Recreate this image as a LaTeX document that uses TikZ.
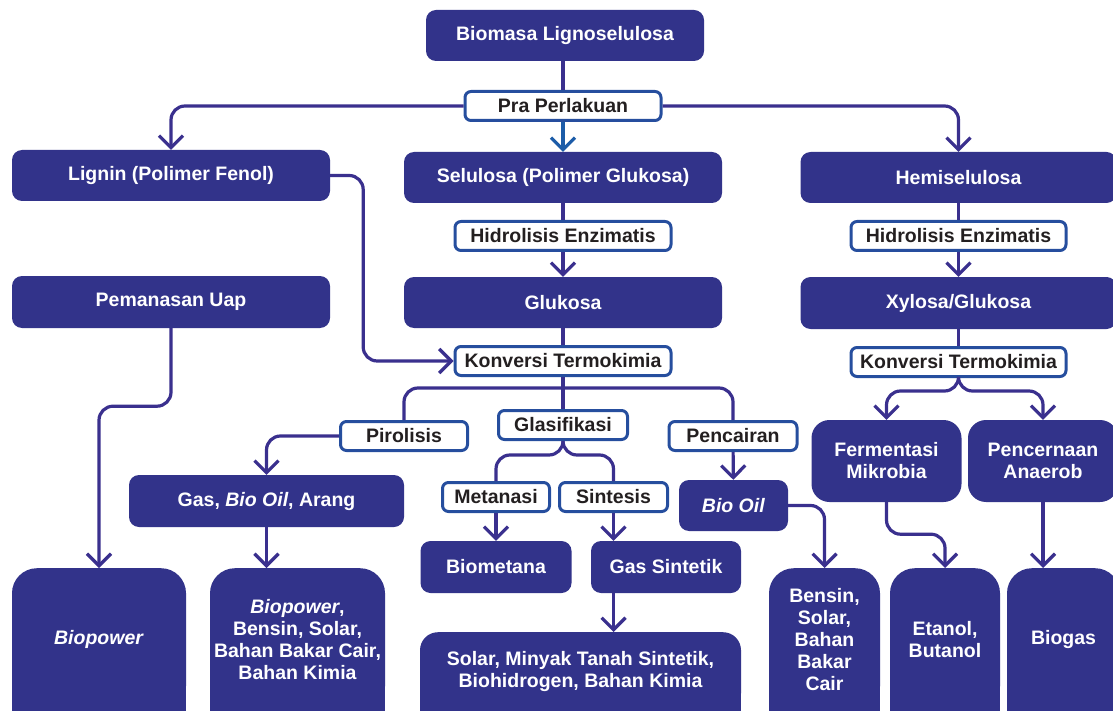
\documentclass[tikz,border=0pt]{standalone}
\usepackage{fontspec}
\setmainfont{Liberation Sans}
\usetikzlibrary{arrows.meta}
\usetikzlibrary{backgrounds}
\definecolor{boxblue}{RGB}{50,51,138}
\definecolor{tagblue}{RGB}{38,78,158}
\definecolor{linkblue}{RGB}{58,48,142}
\definecolor{midblue}{RGB}{28,92,168}
\definecolor{tagtext}{RGB}{35,31,32}
\tikzset{
  box/.style={fill=boxblue, text=white, rounded corners=10pt, inner sep=0pt, align=center, font=\fontsize{19.5}{22}\selectfont\bfseries},
  tallbox/.style={box, rounded corners=25pt, anchor=north, minimum height=143pt},
  tag/.style={draw=tagblue, line width=3pt, fill=white, text=tagtext, rounded corners=6pt, inner sep=0pt, minimum height=29pt, font=\fontsize{19.5}{22}\selectfont\bfseries},
  flow/.style={draw=linkblue, line width=3.2pt, rounded corners=14pt},
  arrowed/.style={-{Straight Barb[length=12pt,width=24pt]}}
}
\begin{document}
\begin{tikzpicture}[x=1pt,y=-1pt]
\useasboundingbox (0,0) rectangle (1113,711);
\clip (0,0) rectangle (1113,711);
% bahan awal
\node (bio) at (565,35.5) [box, minimum width=278pt, minimum height=51pt] {Biomasa Lignoselulosa};
\node (pra) at (563,106) [tag, minimum width=196pt] {Pra Perlakuan};
% tiga komponen
\node (lig) at (171,175.5) [box, minimum width=318pt, minimum height=51pt] {Lignin (Polimer Fenol)};
\node (sel) at (563,177.5) [box, minimum width=318pt, minimum height=51pt] {Selulosa (Polimer Glukosa)};
\node (hemi) at (958.5,177.5) [box, minimum width=316pt, minimum height=51pt] {Hemiselulosa};
\node (hidA) at (563,236) [tag, minimum width=216pt] {Hidrolisis Enzimatis};
\node (hidB) at (958.5,236) [tag, minimum width=215pt] {Hidrolisis Enzimatis};
\node (uap) at (171,302) [box, minimum width=318pt, minimum height=52pt] {Pemanasan Uap};
\node (glu) at (563,302.5) [box, minimum width=318pt, minimum height=51pt] {Glukosa};
\node (xyl) at (958.5,303) [box, minimum width=316pt, minimum height=52pt] {Xylosa/Glukosa};
\node (konA) at (563,361) [tag, minimum width=216pt] {Konversi Termokimia};
\node (konB) at (958.5,362) [tag, minimum width=215pt] {Konversi Termokimia};
% proses
\node (pir) at (404,436) [tag, minimum width=127pt] {Pirolisis};
\node (gla) at (563,425) [tag, minimum width=129pt] {Glasifikasi};
\node (pen) at (733,436) [tag, minimum width=128pt] {Pencairan};
\node (gba) at (266.5,501) [box, minimum width=275pt, minimum height=52pt] {Gas, \textit{Bio Oil}, Arang};
\node (boil) at (733.5,505.5) [box, minimum width=109pt, minimum height=51pt] {\textit{Bio Oil}};
\node (met) at (496,497) [tag, minimum width=107pt] {Metanasi};
\node (sin) at (613.5,497) [tag, minimum width=108pt] {Sintesis};
\node (bmet) at (496,567) [box, minimum width=151pt, minimum height=52pt] {Biometana};
\node (gsin) at (666,567) [box, minimum width=150pt, minimum height=52pt] {Gas Sintetik};
\node (ferm) at (886.5,461) [box, rounded corners=18pt, minimum width=150pt, minimum height=82pt] {Fermentasi\\Mikrobia};
\node (cern) at (1043,461) [box, rounded corners=18pt, minimum width=150pt, minimum height=82pt] {Pencernaan\\Anaerob};
% hasil akhir
\node (bpow) at (99,568) [tallbox, minimum width=174pt] {\textit{Biopower}};
\node (bpow2) at (297.5,568) [tallbox, minimum width=175pt] {\textit{Biopower},\\Bensin, Solar,\\Bahan Bakar Cair,\\Bahan Kimia};
\node (slr) at (580.5,632) [tallbox, rounded corners=18pt, minimum width=321pt, minimum height=79pt] {Solar, Minyak Tanah Sintetik,\\Biohidrogen, Bahan Kimia};
\node (bens) at (824.5,568) [tallbox, minimum width=111pt] {Bensin,\\Solar,\\Bahan\\Bakar\\Cair};
\node (etn) at (945,568) [tallbox, minimum width=110pt] {Etanol,\\Butanol};
\node (bgas) at (1063.5,568) [tallbox, minimum width=113pt] {Biogas};
% potong sudut bawah
\begin{scope}[on background layer]
\foreach \n in {bpow,bpow2,slr,bens,etn,bgas}
  \fill[boxblue] ([yshift=30pt]\n.south west) rectangle (\n.south east);
\end{scope}
% sambungan
\draw[flow] (bio.south -| pra) -- (pra);
\draw[flow, arrowed] (pra.west) -| (lig.north);
\draw[flow, arrowed] (pra.east) -| (hemi.north);
\draw[flow, arrowed, draw=midblue] (pra) -- (sel);
\draw[flow] (sel) -- (hidA);
\draw[flow, arrowed] (hidA) -- (glu);
\draw[flow] (glu) -- (konA);
\draw[flow] (hemi) -- (hidB);
\draw[flow, arrowed] (hidB) -- (xyl);
\draw[flow] (xyl) -- (konB);
\draw[flow, arrowed] (lig.east) -- ++(33,0) |- (konA.west);
\draw[flow, arrowed] (uap.south) -- ++(0,78) -| (bpow.north);
\coordinate (forkA) at (563,388);
\draw[flow] (konA) -- (gla);
\draw[flow] (forkA) -| (pir.north);
\draw[flow] (forkA) -| (pen.north);
\draw[flow] (gla.south) -- ++(0,14) -| (met.north);
\draw[flow] (gla.south) -- ++(0,14) -| (sin.north);
\draw[flow, arrowed] (pir.west) -| (gba.north);
\draw[flow, arrowed] (pen) -- (boil);
\draw[flow, arrowed] (boil.east) -| (bens.north);
\draw[flow, arrowed] (met) -- (bmet);
\draw[flow, arrowed] (sin.south) -- (sin.south |- gsin.north);
\draw[flow, arrowed] (sin.south |- gsin.south) -- (sin.south |- slr.north);
\draw[flow, arrowed] (gba.south) -- (gba.south |- bpow2.north);
\draw[flow, arrowed] (konB.south) -- ++(0,13) -| (ferm.north);
\draw[flow, arrowed] (konB.south) -- ++(0,13) -| (cern.north);
\draw[flow, arrowed] (ferm.south) -- ++(0,32) -| (etn.north);
\draw[flow, arrowed] (cern.south) -- (cern.south |- bgas.north);
\end{tikzpicture}
\end{document}
